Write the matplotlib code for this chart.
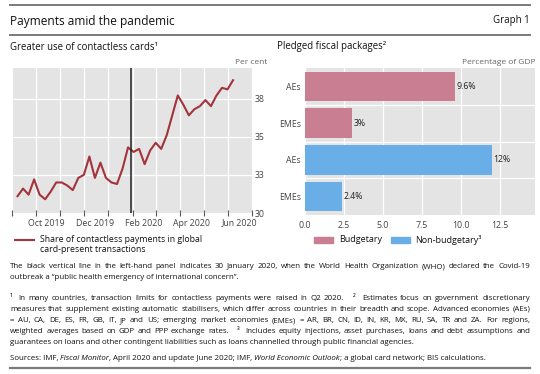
import matplotlib
matplotlib.use("Agg")
import matplotlib.pyplot as plt
import matplotlib.dates as mdates
import numpy as np
import pandas as pd

plt.rcParams['font.family'] = ['Open Sans', 'DejaVu Sans']

# weekly share of contactless payments (per cent)
start_week = '2019-09-08'
contactless = [31.1, 31.6, 31.2, 32.2, 31.2, 30.9, 31.4, 32.0, 32.0, 31.8,
               31.5, 32.3, 32.5, 33.7, 32.3, 33.3, 32.3, 32.0, 31.9, 32.9,
               34.3, 34.0, 34.2, 33.2, 34.1, 34.6, 34.2, 35.1, 36.4, 37.7,
               37.1, 36.4, 36.8, 37.0, 37.4, 37.0, 37.7, 38.2, 38.1, 38.7]
who_date = '2020-01-30'
y_ticks = [30, 32.5, 35, 37.5]
y_tick_labels = ['30', '33', '35', '38']

# pledged fiscal packages (% of GDP)
bar_labels = ['AEs', 'EMEs', 'AEs', 'EMEs']
bar_values = [9.6, 3.0, 12.0, 2.4]
bar_text = ['9.6%', '3%', '12%', '2.4%']
bar_group = ['Budgetary', 'Budgetary', 'Non-budgetary', 'Non-budgetary']

LINE = '#a3343b'
PINK = '#c97e91'
BLUE = '#69aee6'
BG = '#e4e4e4'
GREY = '#444444'

W, H = 540, 374
fig = plt.figure(figsize=(W / 100, H / 100), dpi=100)
renderer = fig.canvas.get_renderer()


def px(x, y):
    return x / W, 1 - y / H


def rule(y, lw=1.4):
    fig.add_artist(plt.Line2D([10 / W, 530 / W], [1 - y / H] * 2,
                              color='#7a7a7a', lw=lw))


def txt(x, y, s, **kw):
    kw.setdefault('fontsize', 6.3)
    kw.setdefault('va', 'center')
    kw.setdefault('color', '#111111')
    return fig.text(*px(x, y), s, **kw)


def width_of(s, size):
    t = txt(0, 0, s, fontsize=size)
    w = t.get_window_extent(renderer).width
    t.remove()
    return w


def para_line(y, line, size, justify=True, x0=10, x1=530):
    # baseline-aligned words, stretched to the full width for justified lines
    if not justify:
        txt(x0, y, line, fontsize=size, va='baseline')
        return
    words = line.split(' ')
    widths = [width_of(w, size) for w in words]
    gap = (x1 - x0 - sum(widths)) / (len(words) - 1)
    x = x0
    for w, wd in zip(words, widths):
        txt(x, y, w, fontsize=size, va='baseline')
        x += wd + gap


# header
rule(5)
rule(35)
txt(10, 21, 'Payments amid the pandemic', fontsize=8.6)
txt(530, 21, 'Graph 1', fontsize=7, ha='right')
txt(10, 47, 'Greater use of contactless cards¹', fontsize=6.9)
txt(277, 47, 'Pledged fiscal packages²', fontsize=6.9)

# left panel
ax = fig.add_axes([12 / W, 1 - 213 / H, 240 / W, 145 / H])
ax.set_facecolor(BG)
dates = pd.date_range(start_week, periods=len(contactless), freq='7D')
ax.plot(dates, contactless, color=LINE, lw=1.5, zorder=3)
ax.axvline(pd.Timestamp(who_date), color='#222222', lw=1.1, zorder=4)
ax.set_xlim(pd.Timestamp('2019-09-01'), pd.Timestamp('2020-07-01'))
ax.set_ylim(30, 39.5)
ax.set_yticks(y_ticks)
ax.set_yticklabels(y_tick_labels)
ax.yaxis.tick_right()
ax.tick_params(axis='y', length=0, pad=2, labelsize=6.3, colors=GREY)
ax.xaxis.set_major_locator(mdates.MonthLocator())
ax.xaxis.set_major_formatter(plt.NullFormatter())
ax.xaxis.set_minor_locator(mdates.MonthLocator(bymonth=[10, 12, 2, 4, 6], bymonthday=15))
ax.xaxis.set_minor_formatter(mdates.DateFormatter('%b %Y'))
ax.tick_params(axis='x', which='major', length=5, direction='inout', color='#555555', width=0.8)
ax.tick_params(axis='x', which='minor', length=0, pad=4, labelsize=6.3, colors=GREY)
ax.grid(True, color='white', lw=0.9)
ax.set_axisbelow(True)
for s in ax.spines.values():
    s.set_visible(False)
txt(267, 62, 'Per cent', fontsize=6, ha='right', color='#666666')

# right panel
bx = fig.add_axes([305 / W, 1 - 215 / H, 230 / W, 147 / H])
bx.set_facecolor(BG)
pos = np.arange(len(bar_values))
colors = [PINK if g == 'Budgetary' else BLUE for g in bar_group]
bx.barh(pos, bar_values, height=0.8, color=colors, zorder=3)
for p, v, t in zip(pos, bar_values, bar_text):
    bx.text(v + 0.1, p, t, va='center', ha='left', fontsize=6.3, color='#222222', zorder=4)
bx.set_ylim(3.5, -0.5)
bx.set_xlim(0, 14.75)
bx.set_yticks(pos)
bx.set_yticklabels(bar_labels)
bx.set_yticks([0.5, 1.5, 2.5], minor=True)
bx.set_xticks([0, 2.5, 5, 7.5, 10, 12.5])
bx.set_xticklabels(['0.0', '2.5', '5.0', '7.5', '10.0', '12.5'])
bx.tick_params(axis='both', which='both', length=0, labelsize=6.3, colors=GREY)
bx.tick_params(axis='y', pad=3)
bx.tick_params(axis='x', pad=4)
bx.grid(True, axis='x', color='white', lw=0.9)
bx.grid(True, axis='y', which='minor', color='white', lw=0.9)
bx.set_axisbelow(True)
for s in bx.spines.values():
    s.set_visible(False)
txt(535, 62, 'Percentage of GDP', fontsize=6, ha='right', color='#666666')

# legends
fig.add_artist(plt.Line2D([15 / W, 34 / W], [1 - 240 / H] * 2, color=LINE, lw=1.5))
txt(40, 239, 'Share of contactless payments in global', fontsize=6.3)
txt(40, 249, 'card-present transactions', fontsize=6.3)
fig.add_artist(plt.Rectangle(px(314, 243), 19 / W, 6 / H, color=PINK))
txt(339, 240, 'Budgetary', fontsize=6.5)
fig.add_artist(plt.Rectangle(px(391, 243), 19 / W, 6 / H, color=BLUE))
txt(415, 240, 'Non-budgetary³', fontsize=6.5)

# notes
notes = [
    (268, 'The black vertical line in the left-hand panel indicates 30 January 2020, when the World Health Organization (WHO) declared the Covid-19', True),
    (279, 'outbreak a \u201cpublic health emergency of international concern\u201d.', False),
    (300, '¹  In many countries, transaction limits for contactless payments were raised in Q2 2020.   ²  Estimates focus on government discretionary', True),
    (311, 'measures that supplement existing automatic stabilisers, which differ across countries in their breadth and scope. Advanced economies (AEs)', True),
    (322, '= AU, CA, DE, ES, FR, GB, IT, JP and US; emerging market economies (EMEs) = AR, BR, CN, ID, IN, KR, MX, RU, SA, TR and ZA. For regions,', True),
    (333, 'weighted averages based on GDP and PPP exchange rates.   ³  Includes equity injections, asset purchases, loans and debt assumptions and', True),
    (344, 'guarantees on loans and other contingent liabilities such as loans channelled through public financial agencies.', False),
]
# pick the largest size at which the longest justified line still fits
base = 5.7
widest = max(width_of(s, base) for _, s, j in notes if j)
note_size = min(6.3, base * 515 / widest)
for y, s, j in notes:
    para_line(y, s, note_size, justify=j)

x = 10
for piece, style in [('Sources: IMF, ', 'normal'), ('Fiscal Monitor', 'italic'),
                     (', April 2020 and update June 2020; IMF, ', 'normal'),
                     ('World Economic Outlook', 'italic'),
                     ('; a global card network; BIS calculations.', 'normal')]:
    t = txt(x, 360, piece, fontsize=note_size, style=style, va='baseline')
    x += t.get_window_extent(renderer).width
rule(368, lw=1.6)

fig.savefig('out.png', dpi=100)
